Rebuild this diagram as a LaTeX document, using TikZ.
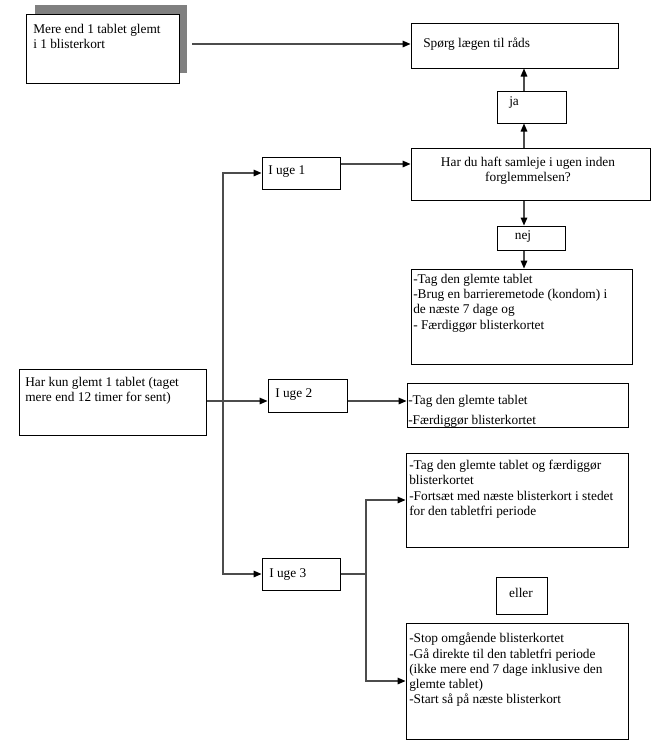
\documentclass[tikz,border=0pt]{standalone}
\usepackage{fontspec}
\setmainfont{Liberation Serif}
\usetikzlibrary{fit,arrows.meta}
\begin{document}
\begin{tikzpicture}[x=0.75pt,y=-0.75pt,
  box/.style={draw=black, line width=0.75pt, fill=white, inner sep=0pt},
  txt/.style={inner sep=0pt, font=\fontsize{10}{11.4}\selectfont, align=left},
  ctxt/.style={inner sep=0pt, font=\fontsize{10}{11.4}\selectfont, align=center},
  conn/.style={draw=black!70, line width=0.8pt, -{Triangle[length=6pt,width=5pt,color=black]}},
  plain/.style={draw=black!70, line width=0.8pt}]
\useasboundingbox (0,0) rectangle (655,751);
% shadow
\fill[black!50] (35,5) rectangle (187,73);
% boxes
\node[box, fit={(26,14) (179,83)}] (A) {};
\node[box, fit={(411,23) (618,68)}] (B) {};
\node[box, fit={(497,91) (566,123)}] (ja) {};
\node[box, fit={(411,148) (650,200)}] (Q) {};
\node[box, fit={(497,226) (565,250)}] (nej) {};
\node[box, fit={(411,269) (632,364)}] (C) {};
\node[box, fit={(262,157) (340,189)}] (u1) {};
\node[box, fit={(19,369) (206,435)}] (M) {};
\node[box, fit={(268,379) (347,412)}] (u2) {};
\node[box, fit={(407,383) (628,427)}] (D) {};
\node[box, fit={(262,558) (340,590)}] (u3) {};
\node[box, fit={(406,453) (628,547)}] (E) {};
\node[box, fit={(496,577) (547,614)}] (eller) {};
\node[box, fit={(406,623) (628,739)}] (F) {};
% texts
\node[txt, anchor=north west] (tA) at (33,24) {Mere end 1 tablet glemt\\i 1 blisterkort};
\node[txt, anchor=base west] (tB) at (423,47) {Spørg lægen til råds};
\node[txt, anchor=base west] (tja) at (509,105) {ja};
\node[ctxt, anchor=north] (tQ) at (528,157) {Har du haft samleje i ugen inden\\forglemmelsen?};
\node[txt, anchor=base] (tnej) at (523,239) {nej};
\node[txt, anchor=north west] (tC) at (413,274) {-Tag den glemte tablet\\-Brug en barrieremetode (kondom) i\\de næste 7 dage og\\- Færdiggør blisterkortet};
\node[txt, anchor=base west] (tu1) at (268,174) {I uge 1};
\node[txt, anchor=north west] (tM) at (25,377) {Har kun glemt 1 tablet (taget\\mere end 12 timer for sent)};
\node[txt, anchor=base west] (tu2) at (275,397) {I uge 2};
\node[txt, anchor=north west] (tD) at (408,395) {-Tag den glemte tablet\\[3.6pt]-Færdiggør blisterkortet};
\node[txt, anchor=base west] (tu3) at (269,577) {I uge 3};
\node[txt, anchor=north west] (tE) at (409,460) {-Tag den glemte tablet og færdiggør\\blisterkortet\\-Fortsæt med næste blisterkort i stedet\\for den tabletfri periode};
\node[txt, anchor=base] (teller) at (521,597) {eller};
\node[txt, anchor=north west] (tF) at (409,633) {-Stop omgående blisterkortet\\-Gå direkte til den tabletfri periode\\(ikke mere end 7 dage inklusive den\\glemte tablet)\\-Start så på næste blisterkort};
% helper coordinates
\coordinate (a0) at (192,44);
\coordinate (vx) at (524,0);
\coordinate (y164) at (0,164);
\coordinate (j1) at (223,401);
\coordinate (j3) at (366,574);
% connectors
\draw[conn] (a0) -- (a0 -| B.west);
\draw[conn] (ja.north -| vx) -- (B.south -| vx);
\draw[conn] (Q.north -| vx) -- (ja.south -| vx);
\draw[conn] (Q.south -| vx) -- (nej.north -| vx);
\draw[conn] (nej.south -| vx) -- (C.north -| vx);
\draw[conn] (u1.east |- y164) -- (Q.west |- y164);
\draw[conn] (M.east |- j1) -- (u2.west |- j1);
\draw[conn] (j1) |- (u1.west);
\draw[conn] (j1) |- (u3.west);
\draw[conn] (u2.east |- j1) -- (D.west |- j1);
\draw[plain] (u3.east) -- (j3);
\draw[conn] (j3) |- (E.west);
\draw[conn] (j3) |- (F.west);
\end{tikzpicture}
\end{document}
